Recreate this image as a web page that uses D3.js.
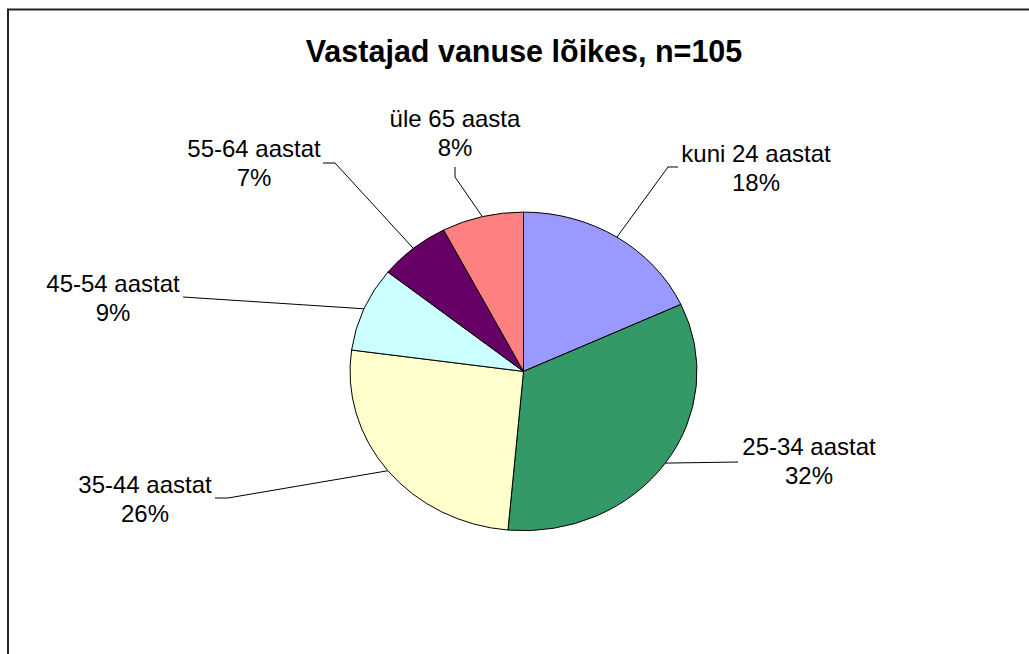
<!DOCTYPE html>
<html>
<head>
<meta charset="utf-8">
<script src="https://cdn.jsdelivr.net/npm/d3@7"></script>
<style>
  html, body { margin: 0; padding: 0; background: #ffffff; }
  svg { display: block; font-family: "Liberation Sans", Arial, sans-serif; }
</style>
</head>
<body>
<svg id="chart" width="1029" height="654"></svg>
<script>
// ---- data ----
const title = "Vastajad vanuse lõikes, n=105";
const categories = ["kuni 24 aastat", "25-34 aastat", "35-44 aastat", "45-54 aastat", "55-64 aastat", "üle 65 aasta"];
const counts = [19, 35, 27, 9, 7, 8];
const percentLabels = ["18%", "32%", "26%", "9%", "7%", "8%"];
const colors = ["#9999FF", "#339966", "#FFFFCC", "#CCFFFF", "#660066", "#FF8080"];

// ---- layout (label placement) ----
const labelLayout = [
  { cx: 756, by: 162, sx: 678, sy: 167, ex: 668, ey: 167 },
  { cx: 809, by: 455, sx: 738, sy: 462, ex: 738, ey: 462 },
  { cx: 145, by: 493, sx: 215, sy: 498, ex: 228, ey: 498 },
  { cx: 113, by: 292, sx: 183, sy: 297, ex: 183, ey: 297 },
  { cx: 254, by: 157, sx: 323, sy: 163, ex: 335, ey: 163 },
  { cx: 455, by: 127, sx: 455, sy: 167, ex: 455, ey: 177 }
];

const svg = d3.select("#chart");

// chart frame
svg.append("rect")
  .attr("x", 8).attr("y", 9.5)
  .attr("width", 1100).attr("height", 800)
  .attr("fill", "#ffffff")
  .attr("stroke", "#222").attr("stroke-width", 2);

// title
svg.append("text")
  .attr("x", 524).attr("y", 62)
  .attr("text-anchor", "middle")
  .attr("font-weight", "bold")
  .attr("font-size", 30.5)
  .attr("fill", "#000")
  .text(title);

// pie
const cx = 523.5, cy = 371.4, r = 159.3, sxScale = 1.089;
const pie = d3.pie().sort(null).value(d => d)(counts);
const arc = d3.arc().innerRadius(0).outerRadius(r);

const g = svg.append("g").attr("transform", `translate(${cx},${cy}) scale(${sxScale},1)`);
g.selectAll("path.slice")
  .data(pie)
  .join("path")
  .attr("class", "slice")
  .attr("d", arc)
  .attr("fill", (d, i) => colors[i])
  .attr("stroke", "#000")
  .attr("stroke-width", 1)
  .attr("vector-effect", "non-scaling-stroke");

// leader lines and labels
pie.forEach((d, i) => {
  const a = (d.startAngle + d.endAngle) / 2;
  const px = cx + Math.sin(a) * r * sxScale;
  const py = cy - Math.cos(a) * r;
  const L = labelLayout[i];
  svg.append("polyline")
    .attr("points", `${L.sx},${L.sy} ${L.ex},${L.ey} ${px},${py}`)
    .attr("fill", "none")
    .attr("stroke", "#000")
    .attr("stroke-width", 1);
  const t = svg.append("text")
    .attr("text-anchor", "middle")
    .attr("font-size", 24)
    .attr("fill", "#000");
  t.append("tspan").attr("x", L.cx).attr("y", L.by).text(categories[i]);
  t.append("tspan").attr("x", L.cx).attr("y", L.by + 29).text(percentLabels[i]);
});
</script>
</body>
</html>
